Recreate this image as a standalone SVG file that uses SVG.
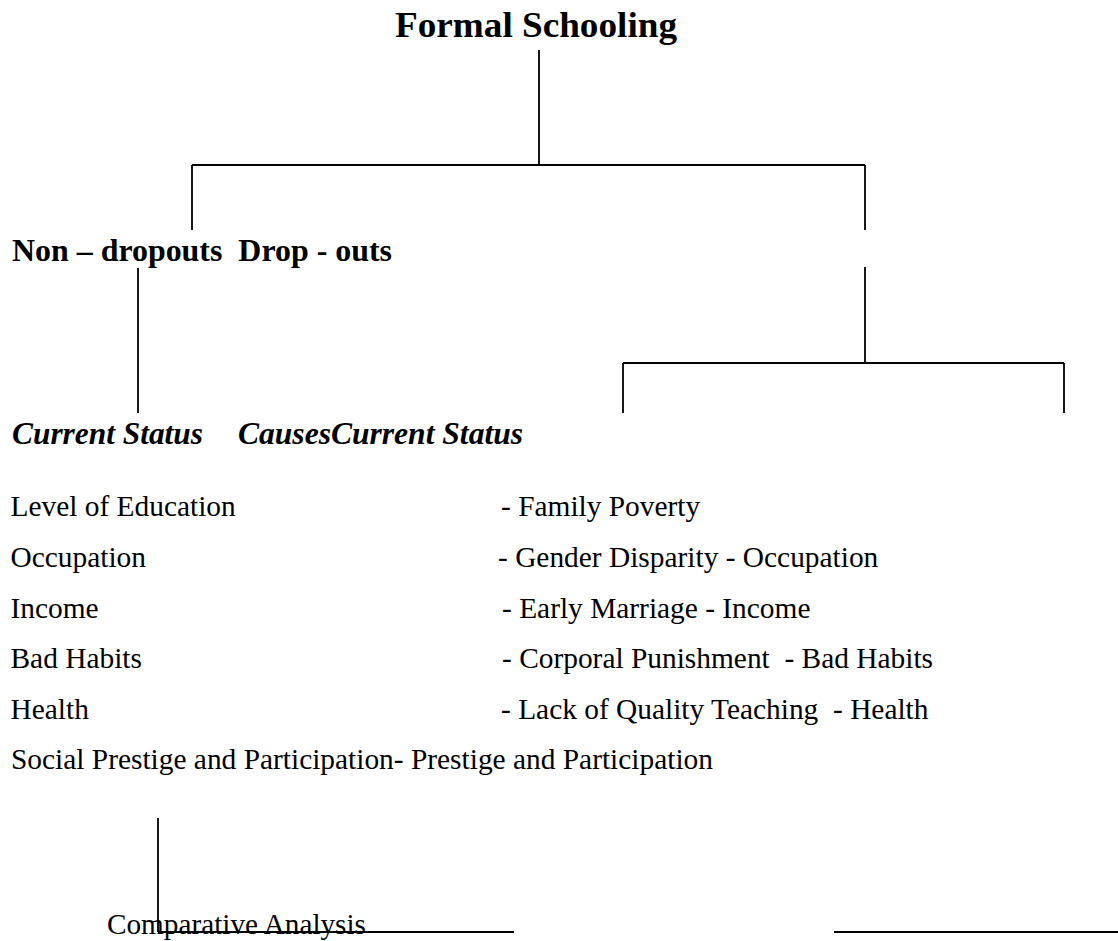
<svg xmlns="http://www.w3.org/2000/svg" width="1118" height="941" viewBox="0 0 1118 941">
<style>
.t{font-family:"Liberation Serif","Times New Roman",serif;fill:#000}
.title{font-size:36px;font-weight:bold}
.head{font-size:31.5px;font-weight:bold}
.sub{font-size:31.5px;font-weight:bold;font-style:italic}
.item{font-size:29.4px}
.cmp{font-size:29px}
.ln{stroke:#000;stroke-width:1.8;fill:none}
</style>
<rect width="1118" height="941" fill="#fff"/>
<g id="connectors">
<path class="ln" d="M539 50V165M192 165H865M192 165V230M865 165V230"/>
<path class="ln" d="M865 267V363M623 363H1064M623 363V413M1064 363V413"/>
<path class="ln" d="M138 268V413"/>
<path class="ln" d="M158 818V932M158 932H514M834 932H1118"/>
</g>
<g id="node-formal-schooling"><text class="t title" x="395" y="37" textLength="282" lengthAdjust="spacingAndGlyphs">Formal Schooling</text></g>
<g id="node-dropouts-heading"><text class="t head" x="12" y="261" textLength="380" lengthAdjust="spacingAndGlyphs" xml:space="preserve">Non – dropouts  Drop - outs</text></g>
<g id="node-status-heading"><text class="t sub" x="12" y="444" textLength="191" lengthAdjust="spacingAndGlyphs">Current Status</text><text class="t sub" x="238" y="444" textLength="285" lengthAdjust="spacingAndGlyphs">CausesCurrent Status</text></g>
<g id="node-current-status">
<text class="t item" x="10.5" y="516">Level of Education</text>
<text class="t item" x="10.5" y="567">Occupation</text>
<text class="t item" x="10.5" y="618">Income</text>
<text class="t item" x="10.5" y="668">Bad Habits</text>
<text class="t item" x="10.5" y="719">Health</text>
<text class="t item" x="11" y="769">Social Prestige and Participation- Prestige and Participation</text>
</g>
<g id="node-causes">
<text class="t item" x="501" y="516">- Family Poverty</text>
<text class="t item" x="498" y="567">- Gender Disparity - Occupation</text>
<text class="t item" x="502" y="618">- Early Marriage - Income</text>
<text class="t item" x="502" y="668" xml:space="preserve">- Corporal Punishment  - Bad Habits</text>
<text class="t item" x="501" y="719" xml:space="preserve">- Lack of Quality Teaching  - Health</text>
</g>
<g id="node-comparative"><text class="t cmp" x="107" y="934" textLength="259" lengthAdjust="spacingAndGlyphs">Comparative Analysis</text></g>
</svg>
